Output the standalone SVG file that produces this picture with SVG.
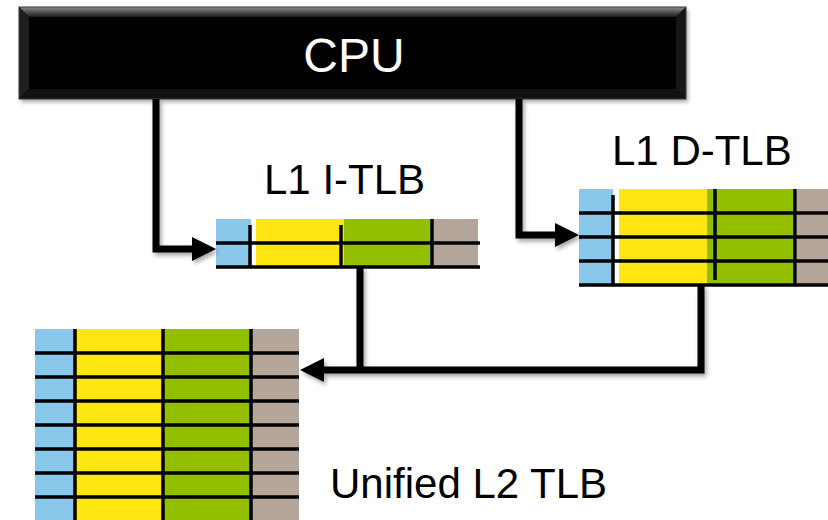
<svg xmlns="http://www.w3.org/2000/svg" width="828" height="520" viewBox="0 0 828 520">
  <defs>
    <linearGradient id="bevelTop" x1="0" y1="0" x2="0" y2="1">
      <stop offset="0" stop-color="#8a8a8a"/>
      <stop offset="1" stop-color="#1c1c1c"/>
    </linearGradient>
    <filter id="shadow" x="-10%" y="-10%" width="130%" height="140%">
      <feDropShadow dx="2" dy="3" stdDeviation="2" flood-color="#000" flood-opacity="0.35"/>
    </filter>
  </defs>
  <style>
    .lbl { font-family: "Liberation Sans", Arial, sans-serif; fill: #000; font-size: 42px; }
    .cpu-txt { font-family: "Liberation Sans", Arial, sans-serif; fill: #fff; font-size: 48px; }
    .blue { fill: #89C7EB; }
    .yellow { fill: #FFE512; }
    .green { fill: #92C000; }
    .gray { fill: #B4A69B; }
    .grid { stroke: #000; stroke-width: 3.5; fill: none; }
    .conn { stroke: #000; stroke-width: 7; fill: none; stroke-linejoin: miter; }
    .head { fill: #000; }
  </style>

  <!-- CPU -->
  <g id="cpu">
    <rect x="19" y="7" width="667" height="92" fill="#030303" filter="url(#shadow)"/>
    <polygon points="19,7 686,7 676,17 29,17" fill="url(#bevelTop)"/>
    <polygon points="19,7 29,17 29,89 19,99" fill="#1e1e1e"/>
    <polygon points="686,7 676,17 676,89 686,99" fill="#161616"/>
    <polygon points="19,99 29,89 676,89 686,99" fill="#111111"/>
    <rect x="19" y="7" width="667" height="92" fill="none" stroke="#3a3a3a" stroke-width="1"/>
    <text class="cpu-txt" x="354" y="72" text-anchor="middle">CPU</text>
  </g>

  <!-- L1 I-TLB -->
  <g id="l1-itlb">
    <rect class="blue" x="216" y="219" width="35" height="48"/>
    <rect class="yellow" x="256" y="219" width="88" height="48"/>
    <rect class="green" x="344" y="219" width="88" height="48"/>
    <rect class="gray" x="432" y="219" width="46" height="48"/>
    <path class="grid" d="M216,243 H480 M216,267 H480 M250,225 V267 M341,225 V267 M432,219 V267"/>
    <text class="lbl" x="264" y="194">L1 I-TLB</text>
  </g>

  <!-- L1 D-TLB -->
  <g id="l1-dtlb">
    <rect class="blue" x="579" y="189" width="34" height="96"/>
    <rect class="yellow" x="619" y="189" width="88" height="96"/>
    <rect class="green" x="707" y="189" width="88" height="96"/>
    <rect class="gray" x="797" y="189" width="31" height="96"/>
    <path class="grid" d="M579,213 H828 M579,237 H828 M579,261 H828 M579,285 H828 M613,195 V285 M715,189 V280 M795,189 V285"/>
    <text class="lbl" x="612" y="165">L1 D-TLB</text>
  </g>

  <!-- Unified L2 TLB -->
  <g id="l2-tlb">
    <rect class="blue" x="35" y="329" width="40" height="191"/>
    <rect class="yellow" x="75" y="329" width="88" height="191"/>
    <rect class="green" x="163" y="329" width="88" height="191"/>
    <rect class="gray" x="251" y="329" width="48" height="191"/>
    <path class="grid" d="M35,353 H299 M35,377 H299 M35,401 H299 M35,425 H299 M35,449 H299 M35,473 H299 M35,497 H299 M75,329 V520 M163,329 V520 M251,329 V520"/>
    <text class="lbl" x="330" y="498">Unified L2 TLB</text>
  </g>

  <!-- Connectors -->
  <g id="connectors" filter="url(#shadow)">
    <path class="conn" d="M156,99 V249 H196"/>
    <polygon class="head" points="216,249 192,237 192,261"/>
    <path class="conn" d="M519,99 V235 H559"/>
    <polygon class="head" points="579,235 555,223 555,247"/>
    <path class="conn" d="M360,267 V370"/>
    <path class="conn" d="M701,285 V370 H320"/>
    <polygon class="head" points="300,370 324,358 324,382"/>
  </g>
</svg>
